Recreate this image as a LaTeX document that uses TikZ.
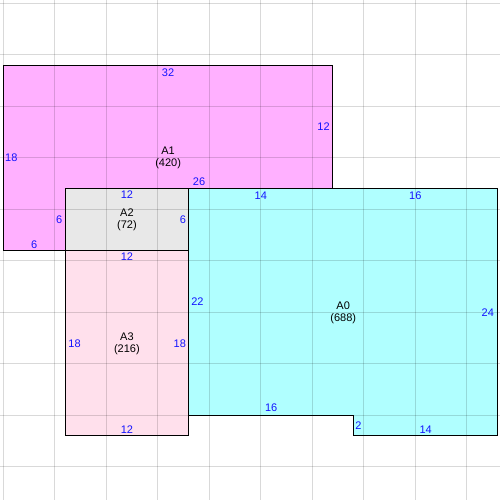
\documentclass[tikz,border=0pt]{standalone}
\usepackage{fontspec}
\setmainfont{Liberation Sans}
\definecolor{cAone}{RGB}{255,176,255}
\definecolor{cAzero}{RGB}{176,255,255}
\definecolor{cAtwo}{RGB}{232,232,232}
\definecolor{cAthree}{RGB}{255,224,236}
\definecolor{dimblue}{RGB}{20,20,255}
\begin{document}
\begin{tikzpicture}[x=10.3bp,y=-10.3bp,
  outline/.style={draw=black,line width=1.1bp},
  gridline/.style={draw=black,opacity=0.15,line width=1bp},
  dim/.style={inner sep=0pt,text=dimblue,font=\fontsize{11bp}{13bp}\selectfont},
  areaname/.style={align=center,inner sep=0pt,text=black,font=\fontsize{11bp}{12bp}\selectfont}]
\useasboundingbox (-0.32,-0.32) rectangle (48.22,48.22);
% shapes
\fill[cAone] (0,6) rectangle (32,24);
\draw[outline] (0,6) rectangle (32,24);
\fill[cAzero] (18,18) -- (48,18) -- (48,42) -- (34,42) -- (34,40) -- (18,40) -- cycle;
\draw[outline] (18,18) -- (48,18) -- (48,42) -- (34,42) -- (34,40) -- (18,40) -- cycle;
\fill[cAtwo] (6,18) rectangle (18,24);
\draw[outline] (6,18) rectangle (18,24);
\fill[cAthree] (6,24) rectangle (18,42);
\draw[outline] (6,24) rectangle (18,42);
% grid
\foreach \i in {0,5,...,45} {
  \draw[gridline] (\i,-0.32) -- (\i,48.22);
  \draw[gridline] (-0.32,\i) -- (48.22,\i);
}
% A1 labels
\node[areaname] (nA1) at (16,14.98) {A1\\(420)};
\node[dim,anchor=north] (a1top) at (16,6.3) {32};
\node[dim,anchor=east] (a1right) at (31.7,12) {12};
\node[dim,anchor=west] (a1left) at (0.17,15) {18};
\node[dim,anchor=south] (a1mid) at (19,17.68) {26};
\node[dim,anchor=east] (a1step) at (5.75,21) {6};
\node[dim,anchor=south] (a1bot) at (3,23.8) {6};
% A2 labels
\node[areaname] (nA2) at (12,21.02) {A2\\(72)};
\node[dim,anchor=north] (a2top) at (12,18.23) {12};
\node[dim,anchor=east] (a2right) at (17.75,21) {6};
% A3 labels
\node[areaname] (nA3) at (12,33.02) {A3\\(216)};
\node[dim,anchor=north] (a3top) at (12,24.25) {12};
\node[dim,anchor=west] (a3left) at (6.3,33) {18};
\node[dim,anchor=east] (a3right) at (17.75,33) {18};
\node[dim,anchor=south] (a3bot) at (12,41.8) {12};
% A0 labels
\node[areaname] (nA0) at (33,30.02) {A0\\(688)};
\node[dim,anchor=north] (a0topl) at (25,18.32) {14};
\node[dim,anchor=north] (a0topr) at (40,18.32) {16};
\node[dim,anchor=east] (a0right) at (47.65,30) {24};
\node[dim,anchor=south] (a0botr) at (41,41.75) {14};
\node[dim,anchor=west] (a0step) at (34.17,41) {2};
\node[dim,anchor=south] (a0botl) at (26,39.65) {16};
\node[dim,anchor=west] (a0left) at (18.23,29) {22};
\end{tikzpicture}
\end{document}
